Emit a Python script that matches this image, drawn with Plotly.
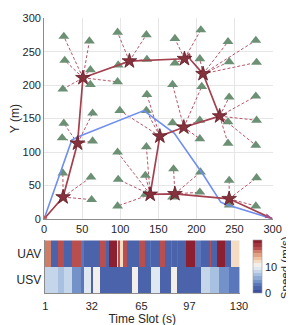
import plotly.graph_objects as go

# ---------------- data ----------------
# ground users (triangles)
users_x = [25.9, 27.1, 24.6, 25.9, 23.7, 24.6,
           59.5, 60.8, 60.8, 63.7, 63.7, 61.5, 62.4,
           96.5, 97.3, 96.5, 99.4, 96.5, 97.3, 96.5,
           134.3, 135, 135, 134.3, 134.3, 133, 133,
           171.8, 171.8, 168.7, 168.7, 170, 168.7,
           205.8, 204.5, 207, 204.5, 204.5, 205.3, 204.5,
           241.5, 243, 243, 241.5, 241.5, 243, 243,
           278, 279, 278, 279, 278, 279, 278]
users_y = [273, 237, 194, 143, 121, 68.5,
           266, 223, 201, 158, 116.4, 62.4, 28.7,
           279, 230, 205, 162, 99.7, 59, 19.2,
           275.4, 238.5, 186, 162, 107.8, 65, 36.5,
           269.7, 232.8, 201, 143.7, 74.7, 32.6,
           282.6, 239.5, 198, 147.5, 119.8, 70, 39.8,
           265, 235, 182, 145, 113, 57.5, 20.7,
           267, 234, 183.5, 147.5, 110, 61.4, 19.2]
# index of the hovering point each user is associated with
users_assoc = [2, 2, 2, 1, 1, 0,
               2, 2, 2, 1, 1, 0, 0,
               3, 3, 2, 8, 9, 9, 9,
               3, 3, 8, 8, 9, 9, 9,
               4, 4, 7, 7, 10, 10,
               4, 5, 7, 7, 7, 10, 10,
               5, 5, 6, 6, 6, 11, 11,
               5, 5, 6, 6, 6, 11, 11]

# UAV hovering points (stars)
hover_x = [25, 43.9, 51, 112, 184.3, 208.7, 230.5, 183.5, 152, 139.3, 171.8, 243]
hover_y = [32.6, 113, 211, 236, 239.5, 217, 153.7, 137, 123.6, 36.5, 37.4, 30]

# UAV trajectory
uav_x = [0, 25, 43.9, 51, 112, 184.3, 190.7, 192, 208.7, 230.5, 183.5, 152, 139.3, 171.8, 243, 300]
uav_y = [0, 32.6, 113, 211, 236, 239.5, 247, 238.5, 217, 153.7, 137, 123.6, 36.5, 37.4, 30, 0]

# USV trajectory
usv_x = [0, 36.3, 44.8, 131, 171, 209, 232, 238, 300]
usv_y = [0, 117.8, 122.7, 162, 128, 66, 25, 22, 0]

# speed per time slot (run-length: count, speed m/s)
uav_speed_runs = [(4, 15.6), (5, 1.5), (4, 17), (5, 1.5), (6, 17), (2, 2.8), (11, 1.5),
                  (4, 17), (2, 1.5), (5, 19.5), (1, 12), (1, 17), (2, 12), (3, 17),
                  (8, 1.5), (4, 17), (3, 1.5), (1, 2.8), (6, 1.5), (3, 17), (4, 1.5),
                  (1, 2.8), (3, 1.5), (1, 17), (5, 1.5), (6, 19.5), (4, 2.8), (6, 1.5),
                  (1, 17), (4, 1.5), (5, 19.5), (4, 1.5), (6, 12)]
usv_speed_runs = [(9, 8), (4, 7), (5, 8), (6, 4.5), (2, 3), (5, 9.5), (1, 1.5), (5, 10.5),
                  (21, 1.5), (4, 10.5), (9, 1.5), (6, 9.5), (7, 1.5), (4, 10.5),
                  (16, 1.5), (6, 8), (6, 7), (7, 4.5), (7, 3.5)]
row_labels = ["USV", "UAV"]
slot_ticks = [1, 32, 65, 97, 130]
xy_ticks = [0, 50, 100, 150, 200, 250, 300]
cbar_ticks = [0, 10]

band_colors = ["#3c4e9c", "#4a63aa", "#5a77bb", "#7392ca", "#8faad6", "#a9c1e1",
               "#c5d5ea", "#dfe7f1", "#f2efeb", "#f3dbc4", "#ecc2a2", "#e0a283",
               "#cf7d66", "#b84e4e", "#a2373f", "#8c1f30"]

# ---------------- build ----------------
def expand(runs):
    out = []
    for n, v in runs:
        out += [v] * n
    return out

uav_speed = expand(uav_speed_runs)
usv_speed = expand(usv_speed_runs)
slots = list(range(1, len(uav_speed) + 1))

nb = len(band_colors)
cscale = []
for i, c in enumerate(band_colors):
    cscale.append([i / nb, c])
    cscale.append([(i + 1) / nb, c])

dash_x, dash_y = [], []
for ux, uy, a in zip(users_x, users_y, users_assoc):
    dash_x += [hover_x[a], ux, None]
    dash_y += [hover_y[a], uy, None]

FONT = "Liberation Sans, Arial, sans-serif"
TXT = "#262626"

fig = go.Figure()
fig.add_trace(go.Scatter(x=dash_x, y=dash_y, mode="lines",
                         line=dict(color="#b8566a", width=1, dash="3px,2px"),
                         hoverinfo="skip", showlegend=False))
fig.add_trace(go.Scatter(x=users_x, y=users_y, mode="markers",
                         marker=dict(symbol="triangle-up", size=9.5, color="#6c9074",
                                     line=dict(width=0)),
                         showlegend=False))
fig.add_trace(go.Scatter(x=usv_x, y=usv_y, mode="lines",
                         line=dict(color="#6f8ff0", width=1.6), showlegend=False))
fig.add_trace(go.Scatter(x=uav_x, y=uav_y, mode="lines",
                         line=dict(color="#a3414f", width=1.7), showlegend=False))
fig.add_trace(go.Scatter(x=hover_x, y=hover_y, mode="markers",
                         marker=dict(symbol="star", size=11, color="#86323d",
                                     line=dict(color="#5e1c25", width=0.8)),
                         showlegend=False))
fig.add_trace(go.Scatter(x=[uav_x[0]], y=[uav_y[0]], mode="markers",
                         marker=dict(symbol="circle", size=6, color="#c2535d"),
                         showlegend=False))
fig.add_trace(go.Scatter(x=[uav_x[-1]], y=[uav_y[-1]], mode="markers",
                         marker=dict(symbol="arrow", size=8, angle=115, color="#a4538a"),
                         showlegend=False))

fig.add_trace(go.Heatmap(x=slots, y=row_labels, z=[usv_speed, uav_speed],
                         xaxis="x2", yaxis="y2", zmin=0, zmax=20,
                         colorscale=cscale, xgap=0, ygap=0,
                         colorbar=dict(x=252 / 294, xanchor="left", xpad=0,
                                       y=1 - 290 / 325, yanchor="bottom", ypad=0,
                                       len=55 / 325, lenmode="fraction",
                                       thickness=9, outlinewidth=0.6, outlinecolor="#9a9a9a",
                                       tickvals=cbar_ticks, ticks="",
                                       tickfont=dict(family=FONT, size=11, color=TXT))))

fig.add_annotation(text="Speed (m/s)", textangle=-90, xref="paper", yref="paper",
                   x=285.5 / 294, y=1 - 263 / 325, xanchor="center", yanchor="middle",
                   showarrow=False, font=dict(family=FONT, size=11.5, color=TXT))

fig.update_layout(
    width=294, height=325, margin=dict(l=0, r=0, t=0, b=0),
    paper_bgcolor="white", plot_bgcolor="white",
    font=dict(family=FONT, size=11, color=TXT),
    xaxis=dict(domain=[34.5 / 294, 272.7 / 294], range=[0, 300], tickvals=xy_ticks,
               showgrid=True, gridcolor="#e6e6e6", gridwidth=1, zeroline=False,
               showline=True, linecolor="#8c8c8c", linewidth=1, ticks="",
               tickfont=dict(size=11, color=TXT), anchor="y"),
    yaxis=dict(domain=[1 - 212.7 / 325, 1 - 4.5 / 325], range=[0, 300], tickvals=xy_ticks,
               showgrid=True, gridcolor="#e6e6e6", gridwidth=1, zeroline=False,
               showline=True, linecolor="#8c8c8c", linewidth=1, ticks="",
               ticklabeloverflow="allow",
               tickfont=dict(size=11, color=TXT),
               title=dict(text="Y (m)", standoff=4, font=dict(size=12, color=TXT)),
               anchor="x"),
    xaxis2=dict(domain=[35 / 294, 238.5 / 294], range=[0.5, 130.5], tickvals=slot_ticks,
                showgrid=False, zeroline=False, showline=True, linecolor="#8c8c8c",
                ticks="outside", ticklen=3, tickcolor="rgba(0,0,0,0)",
                tickfont=dict(size=11, color=TXT), anchor="y2",
                title=dict(text="Time Slot (s)", standoff=3, font=dict(size=12, color=TXT))),
    yaxis2=dict(domain=[1 - 290 / 325, 1 - 235 / 325], showgrid=False, zeroline=False,
                showline=True, linecolor="#8c8c8c", ticks="",
                tickfont=dict(size=12, color=TXT), anchor="x2"),
)

fig.write_html("out.html")
